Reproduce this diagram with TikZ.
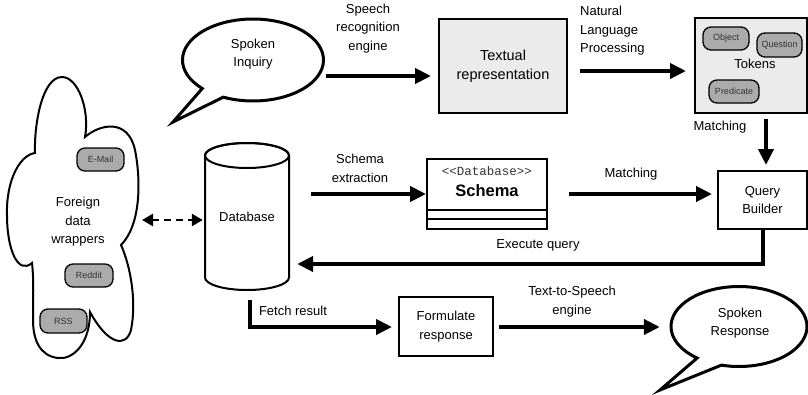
\documentclass[tikz,border=0pt]{standalone}
\usepackage{fontspec}
\setmainfont{Liberation Sans}
\setmonofont{Liberation Mono}
\usetikzlibrary{arrows.meta,calc}
\definecolor{pillgray}{HTML}{ABABAB}
\definecolor{boxgray}{HTML}{EBEBEB}
\definecolor{txtdark}{HTML}{333333}
\begin{document}
\begin{tikzpicture}[x=1pt,y=-1pt,
  lbl/.style={font=\fontsize{13}{18.5}\selectfont, align=center, inner sep=0pt},
  box/.style={draw, line width=2pt, inner sep=0pt, font=\fontsize{13}{18.5}\selectfont, align=center},
  pill/.style={draw, line width=1.3pt, fill=pillgray, rounded corners=8pt, inner sep=0pt,
               font=\fontsize{9}{10}\selectfont, text=txtdark},
  arr/.style={line width=4pt, -{Triangle[length=16pt,width=15pt]}},
  dasharr/.style={line width=2.5pt, dash pattern=on 7pt off 5pt,
                  {Triangle[length=11pt,width=12pt]}-{Triangle[length=11pt,width=12pt]}},
  bubble/.style={line width=3pt, fill=white, line join=miter},
  outline/.style={line width=2pt, fill=white}]
\useasboundingbox (0,0) rectangle (808,394);

% ---------- cloud (foreign data wrappers) ----------
\draw[outline]
  (62,77) .. controls (78,77) and (90,110) .. (85,137)
  .. controls (100,124) and (128,118) .. (135,150)
  .. controls (141,180) and (141,225) .. (121,245)
  .. controls (130,265) and (137,300) .. (131,330)
  .. controls (126,348) and (108,345) .. (90,312)
  .. controls (90,345) and (72,360) .. (58,358)
  .. controls (40,356) and (33,340) .. (33,320)
  .. controls (33,300) and (34,280) .. (32,263)
  .. controls (18,275) and (7,250) .. (7,215)
  .. controls (6,180) and (20,155) .. (35,153)
  .. controls (34,125) and (42,77) .. (62,77) -- cycle;
\coordinate (cloudR) at (142,220);
\node[lbl] (fdw) at (78,222) {Foreign\\data\\wrappers};
\node[pill, minimum width=47pt, minimum height=23pt] (email) at (100.5,159.5) {E-Mail};
\node[pill, minimum width=48pt, minimum height=23pt] (reddit) at (89,275.5) {Reddit};
\node[pill, minimum width=47pt, minimum height=24pt] (rss) at (63.5,321) {RSS};

% ---------- database cylinder ----------
\draw[outline] (205,155.5) -- (205,277.5)
  arc[start angle=180, end angle=0, x radius=42, y radius=12.5]
  -- (289,155.5)
  arc[start angle=0, end angle=-180, x radius=42, y radius=12.5] -- cycle;
\draw[line width=2pt] (247,155.5) ellipse [x radius=42, y radius=12.5];
\node[lbl, minimum width=84pt, minimum height=147pt] (db) at (247,216.5) {Database};

% ---------- spoken inquiry bubble ----------
\node[minimum width=141pt, minimum height=82pt, inner sep=0pt] (inq) at (253,60) {};
\draw[bubble] ($(inq.center)+(136:70.5 and 41)$)
  arc[start angle=136, end angle=475, x radius=70.5, y radius=41]
  -- (173,122) -- cycle;
\node[lbl] (inqt) at (253,54) {Spoken\\Inquiry};

% ---------- textual representation ----------
\node[box, fill=boxgray, minimum width=128pt, minimum height=94pt,
      font=\fontsize{14.5}{19.5}\selectfont] (txt) at (503,66) {Textual\\representation};

% ---------- tokens ----------
\node[box, fill=boxgray, minimum width=112pt, minimum height=95pt] (tok) at (751,65.5) {};
\node[lbl] (tokl) at (755,64) {Tokens};
\node[pill, minimum width=46pt, minimum height=23pt] (obj) at (726,38.5) {Object};
\node[pill, minimum width=45pt, minimum height=24pt] (que) at (779.5,45) {Question};
\node[pill, minimum width=50pt, minimum height=23pt] (pred) at (734,91.5) {Predicate};

% ---------- query builder ----------
\node[box, minimum width=89pt, minimum height=58pt] (qb) at (762.5,200) {Query\\Builder};

% ---------- schema ----------
\node[draw, line width=2pt, minimum width=120pt, minimum height=70pt, inner sep=0pt] (sch) at (487,194) {};
\draw[line width=2pt] (sch.west |- 0,210) -- (sch.east |- 0,210);
\draw[line width=2pt] (sch.west |- 0,219) -- (sch.east |- 0,219);
\node[inner sep=0pt, font=\ttfamily\fontsize{12.5}{14}\selectfont, text=txtdark] (stereo) at (487,171) {<<Database>>};
\node[inner sep=0pt, font=\bfseries\fontsize{16.5}{18}\selectfont] (schn) at (487,191) {Schema};

% ---------- formulate response ----------
\node[box, minimum width=94pt, minimum height=59pt] (fr) at (446,326.5) {Formulate\\response};

% ---------- spoken response bubble ----------
\node[minimum width=136pt, minimum height=80pt, inner sep=0pt] (resp) at (739,326.5) {};
\draw[bubble] ($(resp.center)+(128:68 and 40)$)
  arc[start angle=128, end angle=465, x radius=68, y radius=40]
  -- (660,390) -- cycle;
\node[lbl] (respt) at (740,323) {Spoken\\Response};

% ---------- connectors ----------
\draw[arr] ($(inq.east)+(2.5,16)$) -- ($(txt.west)+(-7,10)$);
\node[lbl] (l1) at (368,28.5) {Speech\\recognition\\engine};

\draw[arr] ($(txt.east)+(12,5)$) -- ($(tok.west)+(-8,5.5)$);
\node[lbl, align=left, anchor=west] (l2) at (580,31) {Natural\\Language\\Processing};

\draw[arr] ($(tok.south)+(15,5)$) -- ($(qb.north)+(3.5,-5)$);
\node[lbl] (l3) at (720,127) {Matching};

\draw[arr] ($(db.east)+(22,-22.5)$) -- (sch.west);
\node[lbl] (l4) at (360,168.5) {Schema\\extraction};

\draw[arr] ($(sch.east)+(21,0)$) -- ($(qb.west)+(-5,-6)$);
\node[lbl] (l5) at (631,174) {Matching};

\draw[arr] (qb.south) |- ($(db.east)+(8,47.5)$);
\node[lbl] (l6) at (538,245) {Execute query};

\draw[arr] ($(db.south)+(3,10)$) |- ($(fr.west)+(-6,0.5)$);
\node[lbl] (l7) at (293,311) {Fetch result};

\draw[arr] ($(fr.east)+(5,0.5)$) -- ($(resp.west)+(-11,0.5)$);
\node[lbl] (l8) at (572,301.5) {Text-to-Speech\\engine};

\draw[dasharr] (cloudR) -- ($(db.west)+(-2,3.5)$);
\end{tikzpicture}
\end{document}
